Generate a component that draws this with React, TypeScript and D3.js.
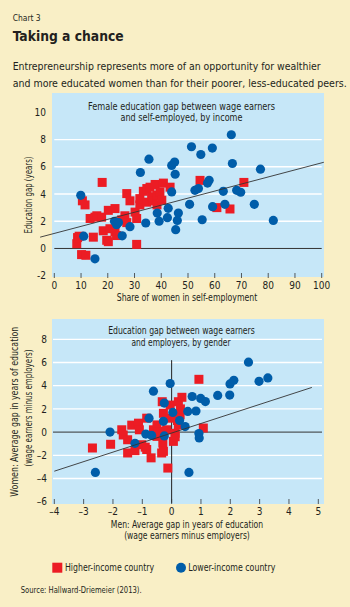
import React from "react";
import * as d3 from "d3";

// ---------- DATA ----------
// Panel 1: share of women in self-employment (x) vs education gap in years (y)
const p1Higher: [number, number][] = [
  [8.4, 0.35], [8.7, 0.8], [9.3, 0.9], [10.2, -0.45], [11.8, -0.5], [10.5, 3.5], [11.5, 3.2],
  [13.4, 2.2], [14.6, 0.83], [15.2, 2.3], [15.9, 2.4], [17.7, 2.3], [17.9, 4.85], [18.3, 1.3],
  [19.6, 0.6], [20.2, 2.8], [20.8, 1.45], [20.2, 0.5], [22.7, 2.93], [22.7, 1.2], [23.3, 0.95],
  [25.2, 2.1], [26.4, 2.4], [27.1, 4.03], [27.1, 1.9], [28.3, 3.5], [30.2, 2.67], [30.8, 2.2],
  [30.8, 0.3], [32, 3.2], [32, 3.66], [33.3, 4.2], [34.6, 3.4], [34.6, 4.4], [35.8, 4.5],
  [36.4, 3.8], [37.7, 4.7], [37, 3.5], [38.4, 3.2], [38.4, 3.9], [39.5, 4.15], [40.2, 3.54],
  [40.8, 4.8], [43.3, 4.5], [54.5, 5.0], [60.8, 3.0], [65.7, 2.9], [70.9, 4.85],
];
const p1Lower: [number, number][] = [
  [9.9, 3.9], [11, 0.9], [15.2, -0.76], [22.5, 2.0], [23.3, 1.75], [24, 1.9], [25.4, 0.93],
  [28.3, 1.6], [32.2, 5.58], [34.2, 1.87], [35.4, 6.56], [38.5, 2.6], [39.2, 2.0], [42.3, 2.26],
  [42.6, 2.95], [43.9, 4.15], [43.9, 6.1], [45, 6.35], [45.2, 5.45], [45.4, 1.38], [46, 2.06],
  [46.4, 2.6], [50.6, 3.24], [51.3, 7.47], [52.6, 4.27], [53.9, 4.4], [54.8, 6.9], [55.3, 2.11],
  [57.3, 4.8], [57.9, 5.01], [59.1, 7.37], [59.2, 3.07], [63.2, 4.2], [63.8, 3.24], [66.2, 8.35],
  [66.6, 6.24], [68.2, 4.27], [69.7, 4.13], [74.8, 3.24], [77.1, 5.82], [81.9, 2.06],
];
const p1Fit: [number, number][] = [[-5.3, 0.83], [100.8, 6.33]];

// Panel 2: men's gap (x) vs women's gap (y), wage earners minus employers
const p2Higher: [number, number][] = [
  [-2.7, -1.37], [-2.08, -1.05], [-1.7, 0.2], [-1.65, -0.25], [-1.5, -0.66], [-1.5, -1.8],
  [-1.36, 0.6], [-1.25, -1.6], [-1.13, 0.77], [-1.1, 0.2], [-1.02, -1.09], [-0.9, -1.3],
  [-0.85, 1.2], [-0.85, -1.5], [-0.7, -2.22], [-0.62, 0.2], [-0.5, 0.62], [-0.5, -0.37],
  [-0.45, 0.05], [-0.34, -1.8], [-0.3, -0.94], [-0.28, 1.62], [-0.32, 2.62], [-0.28, -1.66],
  [-0.17, 0.2], [-0.13, -3.1], [-0.05, 2.33], [0.06, -0.8], [0.12, -0.1], [0.12, -0.4],
  [0.23, 2.62], [0.23, 0.62], [0.29, 1.48], [0.3, 2.0], [0.35, 3.0], [0.93, 4.55], [1.08, 0.35],
  [-0.05, 1.2], [0.2, 1.0],
];
const p2Lower: [number, number][] = [
  [-2.6, -3.48], [-2.1, 0.0], [-1.25, -0.97], [-0.88, -0.17], [-0.77, 1.2], [-0.68, -0.29],
  [-0.62, 3.53], [-0.28, 0.93], [-0.25, 2.5], [-0.25, -0.33], [-0.05, 4.19], [0.04, 1.7],
  [0.27, 1.0], [0.46, 0.48], [0.55, 1.78], [0.59, -3.48], [0.7, 3.07], [0.83, 1.82],
  [0.93, -0.12], [0.94, -0.5], [0.99, 2.9], [1.15, 2.63], [1.57, 3.16], [1.98, 3.19],
  [1.99, 4.15], [2.12, 4.47], [2.62, 6.03], [2.98, 4.38], [3.28, 4.67],
];
const p2Fit: [number, number][] = [[-4, -3.37], [4.78, 3.85]];
const p2VLine: [number, number][] = [[0, 6.2], [0, -6.1]];

const xTicks1 = [0, 10, 20, 30, 40, 50, 60, 70, 80, 90, 100];
const yTicks1 = [-2, 0, 2, 4, 6, 8, 10];
const yGrid1 = [2, 4, 6, 8];
const xTicks2 = [-4, -3, -2, -1, 0, 1, 2, 3, 4, 5];
const yTicks2 = [-6, -4, -2, 0, 2, 4, 6, 8];
const yGrid2 = [-4, -2, 2, 4, 6, 8];

// ---------- STYLE ----------
const FONT = "'Liberation Sans Narrow','Arial Narrow','DejaVu Sans Condensed','Roboto Condensed',sans-serif";
const BG = "#F9EFC6";
const PANEL = "#C6E7F8";
const RED = "#EC1C24";
const BLUE = "#005DA9";
const TXT = "#231F20";

const fmt = (v: number) => (v < 0 ? "\u2013" + Math.abs(v) : String(v));
const fmtH = (v: number) => (v < 0 ? "-" + Math.abs(v) : String(v));

function T(props: any) {
  const { children, size = 10, anchor = "start", weight = "normal", len, ...rest } = props;
  return (
    <text
      fontFamily={FONT}
      fontSize={size}
      fontWeight={weight}
      textAnchor={anchor}
      fill={TXT}
      {...(len ? { textLength: len, lengthAdjust: "spacingAndGlyphs" } : {})}
      {...rest}
    >
      {children}
    </text>
  );
}

export default function App() {
  const x1 = d3.scaleLinear().domain([0, 100]).range([54.3, 321.7]);
  const y1 = d3.scaleLinear().domain([-2, 10]).range([275.7, 112.3]);
  const x2 = d3.scaleLinear().domain([-4, 5]).range([54.3, 318.3]);
  const y2 = d3.scaleLinear().domain([-6, 8]).range([501.7, 339.3]);

  const line1 = d3.line<[number, number]>().x((d) => x1(d[0])).y((d) => y1(d[1]));
  const line2 = d3.line<[number, number]>().x((d) => x2(d[0])).y((d) => y2(d[1]));

  const sq = 9;
  const r = 4.6;

  return (
    <svg
      width={350}
      height={607}
      style={{ position: "absolute", left: 0, top: 0, display: "block" }}
    >
      <rect x={0} y={0} width={350} height={607} fill={BG} />

      {/* Header */}
      <T x={12.7} y={21} size={9.5} len={28}>Chart 3</T>
      <T x={12.7} y={41} size={13.5} weight="bold" len={111}>Taking a chance</T>
      <T x={12.7} y={69.5} size={10.5} len={308}>
        Entrepreneurship represents more of an opportunity for wealthier
      </T>
      <T x={12.7} y={87} size={10.5} len={334}>
        and more educated women than for their poorer, less-educated peers.
      </T>

      {/* ---------- Panel 1 ---------- */}
      <rect x={52} y={93} width={272} height={184} fill={PANEL} />
      {yGrid1.map((v) => (
        <line key={"g1" + v} x1={x1(0)} x2={x1(100)} y1={y1(v)} y2={y1(v)} stroke="#fff" strokeWidth={1.3} />
      ))}
      <line x1={x1(0)} x2={x1(100)} y1={y1(0)} y2={y1(0)} stroke="#333" strokeWidth={1} />
      {xTicks1.map((v) => (
        <g key={"xt1" + v}>
          <line x1={x1(v)} x2={x1(v)} y1={273} y2={278} stroke="#333" strokeWidth={0.8} />
          <T x={x1(v)} y={289} anchor="middle">{fmtH(v)}</T>
        </g>
      ))}
      {yTicks1.map((v) => (
        <T key={"yt1" + v} x={46} y={y1(v) + 3.6} anchor="end">{fmtH(v)}</T>
      ))}
      <T x={181.5} y={110} anchor="middle" len={187}>Female education gap between wage earners</T>
      <T x={181.5} y={121} anchor="middle" len={122}>and self-employed, by income</T>
      {p1Higher.map((d, i) => (
        <rect key={"h1" + i} x={x1(d[0]) - sq / 2} y={y1(d[1]) - sq / 2} width={sq} height={sq} fill={RED} />
      ))}
      {p1Lower.map((d, i) => (
        <circle key={"l1" + i} cx={x1(d[0])} cy={y1(d[1])} r={r} fill={BLUE} />
      ))}
      <path d={line1(p1Fit) || ""} stroke="#333" strokeWidth={0.9} fill="none" />
      <T x={187} y={301} anchor="middle" len={140.6}>Share of women in self-employment</T>
      <T x={31.5} y={195} anchor="middle" len={77} transform="rotate(-90 31.5 195)">
        Education gap (years)
      </T>

      {/* ---------- Panel 2 ---------- */}
      <rect x={52} y={319} width={272} height={185} fill={PANEL} />
      {yGrid2.map((v) => (
        <line key={"g2" + v} x1={53} x2={322} y1={y2(v)} y2={y2(v)} stroke="#fff" strokeWidth={1.3} />
      ))}
      <line x1={53} x2={322} y1={y2(0)} y2={y2(0)} stroke="#333" strokeWidth={1} />
      <path d={line2(p2VLine) || ""} stroke="#222" strokeWidth={1} fill="none" />
      {xTicks2.map((v) => (
        <g key={"xt2" + v}>
          <line x1={x2(v)} x2={x2(v)} y1={499} y2={504} stroke="#333" strokeWidth={0.8} />
          <T x={x2(v)} y={515.3} anchor="middle">{fmt(v)}</T>
        </g>
      ))}
      {yTicks2.map((v) => (
        <T key={"yt2" + v} x={47} y={y2(v) + 3.6} anchor="end">{fmt(v)}</T>
      ))}
      <T x={181.5} y={334.3} anchor="middle" len={146.7}>Education gap between wage earners</T>
      <T x={181} y={345.7} anchor="middle" len={99}>and employers, by gender</T>
      {p2Higher.map((d, i) => (
        <rect key={"h2" + i} x={x2(d[0]) - sq / 2} y={y2(d[1]) - sq / 2} width={sq} height={sq} fill={RED} />
      ))}
      {p2Lower.map((d, i) => (
        <circle key={"l2" + i} cx={x2(d[0])} cy={y2(d[1])} r={r} fill={BLUE} />
      ))}
      <path d={line2(p2Fit) || ""} stroke="#333" strokeWidth={0.9} fill="none" />
      <T x={187} y={528} anchor="middle" len={152.3}>Men: Average gap in years of education</T>
      <T x={187} y={539} anchor="middle" len={125.7}>(wage earners minus employers)</T>
      <T x={18.5} y={411.7} anchor="middle" len={170} transform="rotate(-90 18.5 411.7)">
        Women: Average gap in years of education
      </T>
      <T x={31.8} y={408} anchor="middle" len={117} transform="rotate(-90 31.8 408)">
        (wage earners minus employers)
      </T>

      {/* Legend */}
      <rect x={52.3} y={562.7} width={10} height={10} fill={RED} />
      <T x={65} y={571.2} len={89}>Higher-income country</T>
      <circle cx={181} cy={567.7} r={5} fill={BLUE} />
      <T x={188.3} y={571.2} len={87}>Lower-income country</T>

      {/* Source */}
      <T x={20.7} y={593} size={8} len={121}>Source: Hallward-Driemeier (2013).</T>
    </svg>
  );
}
